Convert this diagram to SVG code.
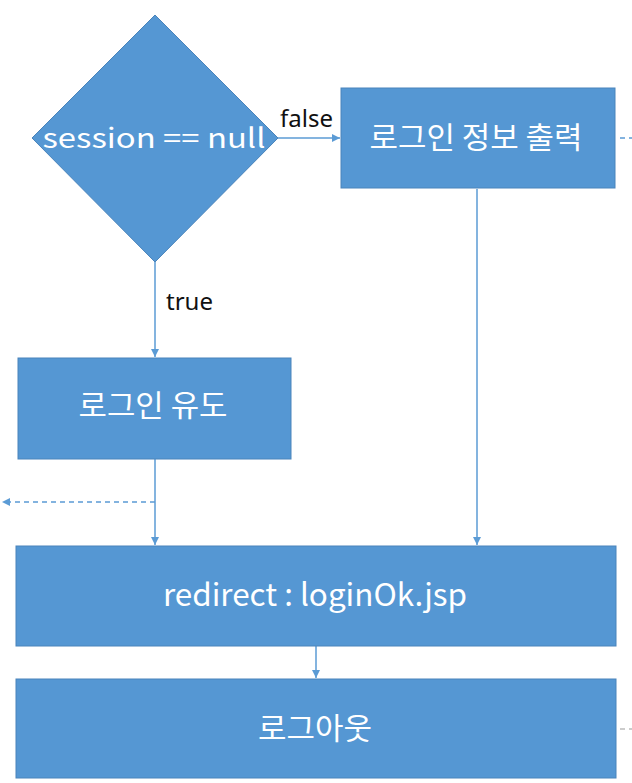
<svg xmlns="http://www.w3.org/2000/svg" width="632" height="783" viewBox="0 0 632 783">
<style>
.node{fill:#5597d3;stroke:#4a84bb;stroke-width:1}
.nt{fill:#ffffff;font-family:"Noto Sans CJK KR","Noto Sans",sans-serif;text-anchor:middle}
.lbl{fill:#111111;font-family:"Noto Sans","Noto Sans CJK KR",sans-serif;font-size:23px}
.ln{stroke:#5b9bd5;stroke-width:1.5;fill:none}
.dash{stroke:#5b9bd5;stroke-width:1.5;fill:none;stroke-dasharray:5 4}
</style>
<defs>
<marker id="ah" markerWidth="10" markerHeight="10" refX="9" refY="5" orient="auto" markerUnits="userSpaceOnUse">
<path d="M1,1 L9,5 L1,9 Z" fill="#5b9bd5"/>
</marker>
</defs>
<rect width="632" height="783" fill="#ffffff"/>
<g id="connectors">
<line class="ln" x1="278" y1="138" x2="340" y2="138" marker-end="url(#ah)"/>
<line class="ln" x1="155" y1="262" x2="155" y2="357" marker-end="url(#ah)"/>
<line class="ln" x1="477" y1="189" x2="477" y2="545" marker-end="url(#ah)"/>
<line class="ln" x1="155" y1="459" x2="155" y2="545" marker-end="url(#ah)"/>
<line class="dash" x1="155" y1="502" x2="2" y2="502" marker-end="url(#ah)"/>
<line class="ln" x1="316" y1="646" x2="316" y2="678" marker-end="url(#ah)"/>
<line class="dash" x1="620" y1="138" x2="632" y2="138"/>
<line x1="620" y1="729" x2="632" y2="729" stroke="#999999" stroke-width="1.2" stroke-dasharray="5 4"/>
<text class="lbl" x="280" y="127" textLength="53" lengthAdjust="spacingAndGlyphs">false</text>
<text class="lbl" x="166" y="310" textLength="47" lengthAdjust="spacingAndGlyphs">true</text>
</g>
<g id="decision">
<polygon class="node" points="155,15 278,138 155,262 32,138"/>
<text class="nt" x="154" y="148" font-size="27" textLength="223" lengthAdjust="spacingAndGlyphs">session == null</text>
</g>
<g id="print-info">
<rect class="node" x="341" y="88" width="274" height="100"/>
<text class="nt" x="476" y="148" font-size="30" textLength="213" lengthAdjust="spacingAndGlyphs">로그인 정보 출력</text>
</g>
<g id="login-guide">
<rect class="node" x="18" y="358" width="273" height="101"/>
<text class="nt" x="153" y="416" font-size="30" textLength="149" lengthAdjust="spacingAndGlyphs">로그인 유도</text>
</g>
<g id="redirect">
<rect class="node" x="16" y="546" width="600" height="100"/>
<text class="nt" x="315" y="606" font-size="31" textLength="304" lengthAdjust="spacingAndGlyphs">redirect : loginOk.jsp</text>
</g>
<g id="logout">
<rect class="node" x="16" y="679" width="600" height="99"/>
<text class="nt" x="315" y="739" font-size="30" textLength="114" lengthAdjust="spacingAndGlyphs">로그아웃</text>
</g>
</svg>
